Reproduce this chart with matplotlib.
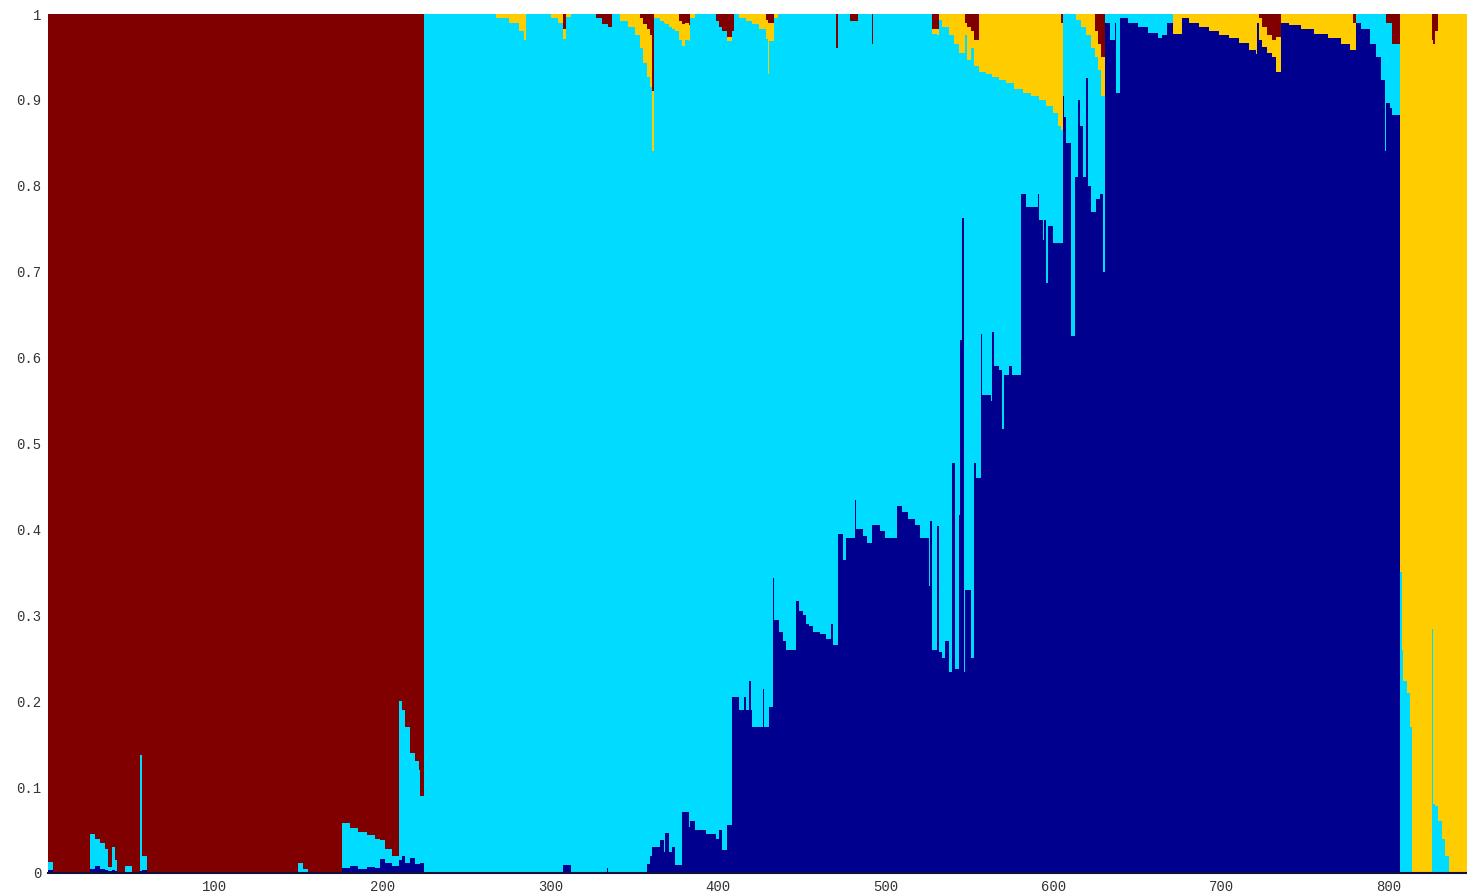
import numpy as np
import matplotlib.pyplot as plt

# Admixture proportions (K=4) for 846 individuals, stored as runs:
# each run is (last individual of the run, proportion for that run).
navy_end = [3, 25, 28, 31, 34, 36, 38, 40, 41, 55, 56, 59, 175, 180, 185, 190, 195, 198, 201, 205,
            209, 211, 213, 216, 219, 222, 224,
            307, 312, 333, 334, 357, 359, 360, 365, 367, 368, 370, 372, 374, 378, 382, 383, 386, 392,
            398, 400, 402, 405, 408,
            412, 415, 416, 418, 419, 420, 426, 427, 430, 432, 433, 436, 438, 440, 446, 448, 450, 452,
            454, 456, 460, 464, 467, 468, 471, 474, 476, 481, 482, 486, 488, 491, 496, 499, 506, 509,
            513, 517, 520, 525, 526, 527, 530, 531, 533, 535, 537, 539, 541, 543, 544, 545, 546, 547,
            550, 552, 553, 556, 557, 562, 563, 564, 567, 569, 570, 573, 575, 580, 583, 590, 591, 593,
            594, 595, 596, 599, 605, 606, 607, 610, 612, 614, 615, 617, 619, 620, 622, 625, 627, 629,
            630, 633, 636, 637, 639, 644, 650, 656, 662, 664, 667, 671, 676, 680, 686, 692, 698, 704,
            710, 716, 720, 721, 722, 724, 727, 730, 732, 735, 740, 747, 755, 763, 771, 776, 780, 783,
            788, 792, 795, 797, 798, 800, 801, 806,
            846]
navy_q = [0.003, 0, 0.005, 0.008, 0.005, 0.004, 0.002, 0.003, 0.002, 0, 0.002, 0.004, 0, 0.006, 0.008,
          0.005, 0.007, 0.006, 0.016, 0.012, 0.008, 0.015, 0.02, 0.012, 0.018, 0.01, 0.012,
          0, 0.009, 0, 0.006, 0, 0.011, 0.02, 0.03, 0.038, 0.025, 0.047, 0.025, 0.03, 0.009, 0.071,
          0.054, 0.06, 0.05, 0.045, 0.04, 0.05, 0.027, 0.056,
          0.205, 0.19, 0.205, 0.19, 0.224, 0.19, 0.17, 0.214, 0.17, 0.193, 0.344, 0.294, 0.28, 0.27,
          0.26, 0.317, 0.305, 0.30, 0.29, 0.287, 0.28, 0.278, 0.272, 0.29, 0.265, 0.395, 0.364, 0.39,
          0.434, 0.40, 0.392, 0.384, 0.405, 0.398, 0.39, 0.427, 0.42, 0.412, 0.405, 0.39, 0.334, 0.41,
          0.26, 0.404, 0.257, 0.25, 0.27, 0.234, 0.477, 0.237, 0.417, 0.62, 0.763, 0.234, 0.33, 0.25,
          0.477, 0.46, 0.627, 0.557, 0.55, 0.63, 0.59, 0.585, 0.517, 0.58, 0.59, 0.58, 0.79, 0.775,
          0.79, 0.76, 0.737, 0.76, 0.687, 0.753, 0.733, 0.905, 0.88, 0.85, 0.625, 0.81, 0.9, 0.87,
          0.81, 0.925, 0.8, 0.77, 0.785, 0.79, 0.70, 0.99, 0.97, 0.99, 0.908, 0.995, 0.99, 0.985,
          0.978, 0.972, 0.975, 0.99, 0.977, 0.995, 0.99, 0.985, 0.98, 0.976, 0.972, 0.966, 0.958,
          0.953, 0.99, 0.97, 0.962, 0.955, 0.95, 0.933, 0.99, 0.987, 0.982, 0.977, 0.972, 0.965,
          0.958, 0.99, 0.983, 0.965, 0.95, 0.923, 0.84, 0.896, 0.89, 0.883,
          0]

cyan_end = [3, 25, 28, 31, 34, 36, 38, 40, 41, 46, 50, 55, 56, 59, 149, 152, 155, 175, 180, 185, 190,
            195, 198, 201, 205, 209, 211, 213, 216, 219, 221, 222, 224,
            806,
            807, 808, 810, 812, 813, 825, 826, 827, 829, 831, 833, 835, 846]
cyan_q = [0.01, 0, 0.04, 0.032, 0.03, 0.024, 0.005, 0.027, 0.013, 0, 0.008, 0, 0.135, 0.016, 0, 0.012,
          0.005, 0, 0.052, 0.044, 0.043, 0.037, 0.034, 0.022, 0.016, 0.012, 0.185, 0.17, 0.158, 0.122,
          0.12, 0.11, 0.078,
          0,
          0.35, 0.26, 0.224, 0.21, 0.17, 0, 0.284, 0.08, 0.078, 0.06, 0.04, 0.02, 0]

yellow_end = [224,
              267, 275, 281, 284, 285, 300, 304, 307, 309, 312, 341, 346, 350, 353, 355, 357, 359, 360,
              361, 365, 367, 368, 370, 372, 374, 376, 378, 380, 382, 383, 386, 405, 408,
              412, 416, 420, 424, 428, 429, 430, 433, 435, 527, 530, 531, 533, 537, 540, 543, 547, 548,
              550, 552, 555, 559, 563, 567, 571, 576, 581, 586, 591, 595, 599, 602, 604, 605, 613, 616,
              619, 622, 624, 626, 628, 630, 671, 676, 680, 686, 692, 698, 704, 710, 716, 720, 721, 722,
              724, 727, 730, 732, 735, 740, 747, 755, 763, 771, 776, 778, 780, 806,
              846]
yellow_q = [0,
            0, 0.005, 0.01, 0.02, 0.03, 0, 0.005, 0.01, 0.012, 0.004, 0, 0.008, 0.015, 0.025, 0.035,
            0.045, 0.055, 0.06, 0.07, 0.005, 0.008, 0.01, 0.012, 0.015, 0.018, 0.02, 0.022, 0.025, 0.02,
            0.018, 0.005, 0, 0.005,
            0, 0.005, 0.008, 0.012, 0.017, 0.022, 0.06, 0.022, 0.005, 0, 0.005, 0.007, 0.007, 0.015,
            0.025, 0.035, 0.045, 0.015, 0.039, 0.02, 0.03, 0.067, 0.07, 0.073, 0.077, 0.08, 0.087,
            0.092, 0.096, 0.10, 0.107, 0.115, 0.13, 0.125, 0, 0.007, 0.015, 0.025, 0.04, 0.03, 0.03,
            0.045, 0, 0.023, 0.005, 0.01, 0.015, 0.02, 0.024, 0.028, 0.034, 0.042, 0.047, 0.01, 0.025,
            0.023, 0.02, 0.02, 0.04, 0.01, 0.013, 0.018, 0.023, 0.028, 0.035, 0.042, 0.032, 0,
            0]

red_end = [224,
           307, 309, 327, 330, 334, 336, 353, 355, 357, 359, 360, 361, 376, 378, 380, 382, 383, 398,
           400, 402, 405, 408,
           409, 428, 429, 433, 470, 471, 478, 483, 491, 492, 527, 531, 547, 548, 550, 552, 555, 604,
           605, 624, 626, 628, 630, 722, 724, 727, 730, 732, 735, 778, 780, 798, 801, 806,
           825, 826, 827, 829, 846]
red_q = [0,
         0, 0.017, 0, 0.005, 0.012, 0.015, 0, 0.005, 0.012, 0.018, 0.025, 0.09, 0, 0.008, 0.012, 0.01,
         0.013, 0, 0.008, 0.015, 0.02, 0.027,
         0.02, 0, 0.007, 0.01, 0, 0.04, 0, 0.008, 0, 0.035, 0, 0.018, 0, 0.01, 0.015, 0.02, 0.03, 0,
         0.01, 0, 0.02, 0.035, 0.05, 0, 0.005, 0.015, 0.025, 0.03, 0.027, 0, 0.01, 0, 0.01, 0.035,
         0, 0.03, 0.035, 0.02, 0]

# populations (last individual) and the cluster that makes up the rest of each bar
group_end = [224, 806, 846]
group_major = ['red', 'cyan', 'yellow']

colors = {'navy': '#00008f', 'cyan': '#00dcff', 'yellow': '#ffcc00', 'red': '#800000'}
order = ['navy', 'cyan', 'yellow', 'red']


def expand(ends, vals):
    counts = np.diff(np.concatenate([[0], ends]))
    return np.repeat(np.asarray(vals, dtype=float), counts)


q = {'navy': expand(navy_end, navy_q), 'cyan': expand(cyan_end, cyan_q),
     'yellow': expand(yellow_end, yellow_q), 'red': expand(red_end, red_q)}
n = len(q['navy'])

start = 0
for end, major in zip(group_end, group_major):
    others = sum(q[k][start:end] for k in order if k != major)
    q[major][start:end] = np.clip(1 - others, 0, 1)
    start = end

x = np.arange(1, n + 1)

fig = plt.figure(figsize=(14.67, 8.93), dpi=100)
ax = fig.add_axes([48 / 1467, 20 / 893, 1 - 48 / 1467, 859 / 893])

bottom = np.zeros(n)
for k in order:
    ax.bar(x, q[k], bottom=bottom, width=1.0, color=colors[k], linewidth=0, antialiased=False)
    bottom += q[k]

ax.set_xlim(0.5, n + 0.5)
ax.set_ylim(0, 1)
ax.set_xticks(np.arange(100, 801, 100))
ax.set_yticks(np.arange(0, 1.01, 0.1))
ax.set_yticklabels(['0'] + ['%.1f' % v for v in np.arange(0.1, 0.95, 0.1)] + ['1'])
ax.tick_params(length=0, labelsize=10, labelcolor='#333333', pad=5)
for lab in ax.get_xticklabels() + ax.get_yticklabels():
    lab.set_family('Liberation Mono')

for side in ['top', 'right', 'left']:
    ax.spines[side].set_visible(False)
ax.spines['bottom'].set_color('#10103a')
ax.spines['bottom'].set_linewidth(1.5)

fig.savefig('out.png', dpi=100)
